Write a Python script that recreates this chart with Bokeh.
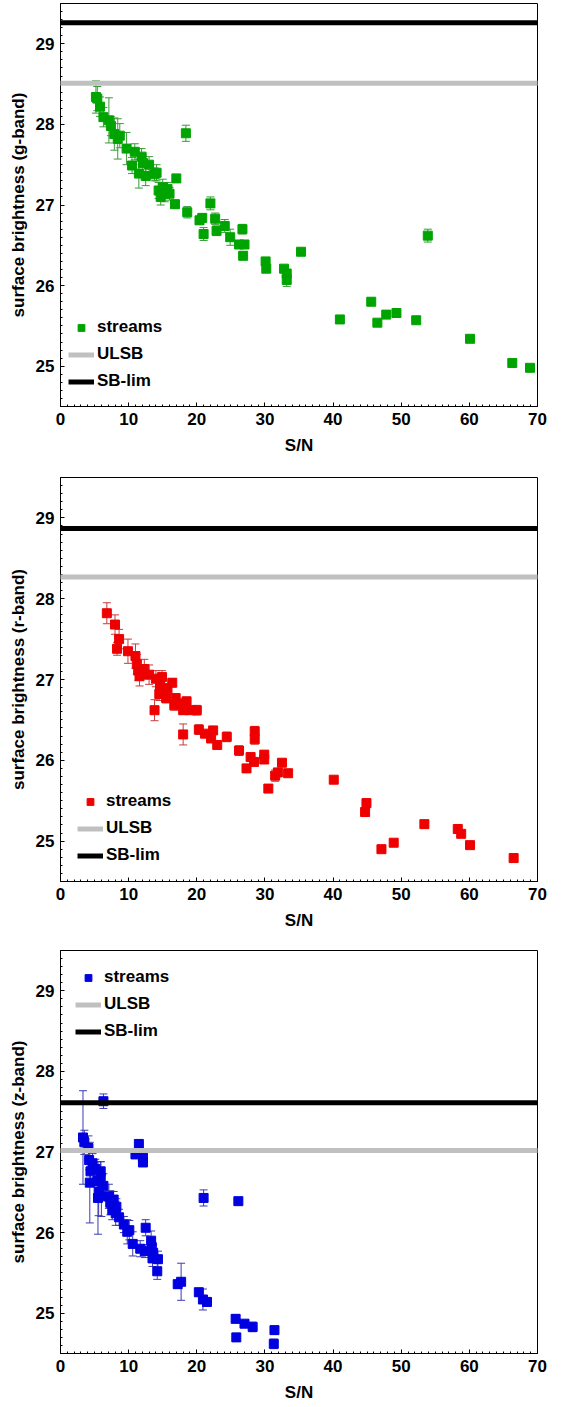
from bokeh.plotting import figure
from bokeh.models import (ColumnDataSource, Whisker, TeeHead, Range1d, Legend,
                          LegendItem, SingleIntervalTicker)
from bokeh.layouts import column
from bokeh.embed import file_html
from bokeh.resources import INLINE

X_LIMITS = (0, 70)
Y_LIMITS = (24.5, 29.5)

# ---- g-band ----
g_sn = [5.2, 5.4, 5.8, 6.3, 7.1, 7.4, 7.9, 8.4, 8.7, 9.7, 10.5, 10.9, 11.5, 11.9, 12.1,
        12.5, 13.0, 13.8, 14.1, 14.4, 14.7, 15.0, 15.3, 15.7, 16.0, 16.8, 17.0, 18.4,
        18.6, 20.4, 20.8, 21.0, 22.0, 22.7, 22.9, 24.1, 24.9, 26.2, 26.7, 26.8, 27.0,
        30.1, 30.2, 32.8, 33.2, 33.2, 35.3, 41.0, 45.6, 46.5, 47.8, 49.3, 52.2, 53.9,
        60.1, 66.3, 68.9]
g_sb = [28.34, 28.32, 28.22, 28.09, 28.05, 27.98, 27.88, 27.82, 27.86, 27.70, 27.49,
        27.66, 27.39, 27.60, 27.52, 27.36, 27.50, 27.38, 27.40, 27.18, 27.10, 27.22,
        27.14, 27.20, 27.14, 27.01, 27.33, 27.89, 26.91, 26.81, 26.84, 26.64, 27.02,
        26.83, 26.68, 26.74, 26.60, 26.51, 26.70, 26.37, 26.51, 26.30, 26.21, 26.21,
        26.15, 26.07, 26.42, 25.58, 25.80, 25.54, 25.64, 25.66, 25.57, 26.62, 25.34,
        25.04, 24.98]
g_err = [0.20, 0.15, 0.12, 0.12, 0.28, 0.12, 0.20, 0.25, 0.15, 0.20, 0.10, 0.10, 0.18,
         0.10, 0.10, 0.12, 0.10, 0.08, 0.10, 0.10, 0.10, 0.10, 0.10, 0.08, 0.08, 0.05,
         0.04, 0.10, 0.07, 0.05, 0.05, 0.08, 0.08, 0.07, 0.06, 0.08, 0.10, 0.04, 0.06,
         0.05, 0.05, 0.04, 0.04, 0.04, 0.05, 0.08, 0.03, 0.04, 0.03, 0.03, 0.03, 0.03,
         0.03, 0.08, 0.03, 0.03, 0.03]
g_ulsb = 28.51
g_sblim = 29.26

# ---- r-band ----
r_sn = [6.8, 8.0, 8.6, 8.3, 9.9, 11.0, 11.2, 11.4, 11.6, 12.3, 13.0, 14.0, 14.9, 16.4,
        14.6, 14.5, 15.5, 15.7, 16.9, 17.6, 18.5, 16.7, 19.0, 20.0, 13.8, 18.0, 18.0,
        20.3, 21.2, 22.4, 22.1, 23.0, 24.4, 26.2, 27.9, 27.3, 28.4, 28.5, 28.5, 29.9,
        29.9, 32.5, 31.9, 31.5, 33.4, 30.5, 40.1, 44.9, 44.7, 47.1, 48.9, 53.4, 58.3,
        58.8, 60.1, 66.5]
r_sb = [27.82, 27.68, 27.50, 27.38, 27.35, 27.29, 27.19, 27.11, 27.04, 27.13, 27.06,
        27.01, 27.03, 26.96, 26.92, 26.82, 26.77, 26.89, 26.77, 26.70, 26.73, 26.68,
        26.62, 26.62, 26.62, 26.62, 26.32, 26.38, 26.33, 26.37, 26.27, 26.19, 26.29,
        26.12, 26.04, 25.90, 25.98, 26.36, 26.26, 26.07, 26.01, 25.97, 25.85, 25.81,
        25.84, 25.65, 25.76, 25.47, 25.36, 24.90, 24.98, 25.21, 25.15, 25.09, 24.95,
        24.79]
r_err = [0.13, 0.12, 0.12, 0.08, 0.15, 0.15, 0.12, 0.12, 0.12, 0.12, 0.12, 0.10, 0.08,
         0.05, 0.10, 0.08, 0.06, 0.06, 0.05, 0.06, 0.05, 0.06, 0.05, 0.06, 0.13, 0.05,
         0.13, 0.06, 0.03, 0.03, 0.03, 0.03, 0.06, 0.06, 0.04, 0.04, 0.04, 0.06, 0.06,
         0.04, 0.04, 0.03, 0.04, 0.07, 0.03, 0.03, 0.02, 0.05, 0.03, 0.02, 0.02, 0.02,
         0.02, 0.02, 0.02, 0.02]
r_ulsb = 28.27
r_sblim = 28.87

# ---- z-band ----
z_sn = [3.3, 3.5, 6.3, 4.1, 4.2, 4.7, 4.4, 5.1, 4.3, 5.4, 5.6, 5.9, 5.9, 6.3, 6.0, 5.5,
        7.1, 7.3, 7.8, 7.6, 8.1, 8.6, 8.2, 9.3, 9.8, 10.1, 10.6, 11.5, 11.0, 12.1, 12.1,
        12.5, 11.7, 12.4, 13.3, 13.4, 13.6, 13.5, 14.3, 14.2, 17.2, 17.7, 20.3, 20.9,
        21.5, 21.0, 26.1, 25.7, 25.8, 27.0, 28.2, 31.4, 31.3]
z_sb = [27.18, 27.12, 27.63, 27.05, 26.90, 26.86, 26.76, 26.79, 26.62, 26.64, 26.51,
        26.68, 26.76, 26.58, 26.45, 26.43, 26.45, 26.37, 26.41, 26.28, 26.24, 26.19,
        26.32, 26.10, 26.01, 26.03, 25.86, 27.10, 26.97, 26.87, 26.93, 26.06, 25.80,
        25.77, 25.90, 25.82, 25.75, 25.68, 25.67, 25.52, 25.36, 25.39, 25.26, 25.17,
        25.14, 26.43, 26.39, 24.93, 24.70, 24.87, 24.83, 24.79, 24.62]
z_err = [0.58, 0.15, 0.09, 0.15, 0.12, 0.12, 0.10, 0.12, 0.50, 0.20, 0.30, 0.20, 0.12,
         0.15, 0.25, 0.45, 0.15, 0.15, 0.10, 0.12, 0.15, 0.10, 0.10, 0.10, 0.15, 0.12,
         0.15, 0.05, 0.05, 0.05, 0.05, 0.10, 0.10, 0.08, 0.12, 0.10, 0.10, 0.10, 0.10,
         0.10, 0.05, 0.23, 0.05, 0.13, 0.05, 0.10, 0.03, 0.05, 0.05, 0.03, 0.06, 0.05,
         0.06]
z_ulsb = 27.02
z_sblim = 27.61

FONT = "Liberation Sans"
FS = "17px"


def make_panel(sn, sb, err, ulsb, sblim, band, color, ecolor, height,
               b_top, b_bottom, legend_xy):
    p = figure(width=563, height=height, output_backend="svg", toolbar_location=None,
               x_range=Range1d(*X_LIMITS), y_range=Range1d(*Y_LIMITS),
               min_border_left=60, min_border_right=26,
               min_border_top=b_top, min_border_bottom=b_bottom)
    p.grid.visible = False
    p.outline_line_color = "black"
    p.outline_line_width = 1
    p.background_fill_color = "white"
    p.border_fill_color = "white"

    p.xaxis.ticker = SingleIntervalTicker(interval=10, num_minor_ticks=10)
    p.yaxis.ticker = SingleIntervalTicker(interval=1, num_minor_ticks=10)
    for ax in (p.xaxis, p.yaxis):
        ax.major_tick_in = 4
        ax.major_tick_out = 0
        ax.minor_tick_in = 2
        ax.minor_tick_out = 0
        ax.axis_line_color = "black"
        ax.major_tick_line_color = "black"
        ax.minor_tick_line_color = "black"
        ax.major_label_text_font = FONT
        ax.major_label_text_font_size = "17px"
        ax.major_label_text_font_style = "bold"
        ax.major_label_text_color = "black"
        ax.axis_label_text_font = FONT
        ax.axis_label_text_font_size = FS
        ax.axis_label_text_font_style = "bold"
        ax.axis_label_text_color = "black"
        ax.major_label_standoff = 6
    p.xaxis.axis_label = "S/N"
    p.xaxis.axis_label_standoff = 8
    p.yaxis.axis_label = f"surface brightness ({band}-band)"
    p.yaxis.axis_label_standoff = 5

    lower = [y - e for y, e in zip(sb, err)]
    upper = [y + e for y, e in zip(sb, err)]
    src = ColumnDataSource(dict(x=sn, y=sb, lower=lower, upper=upper))
    wh = Whisker(source=src, base="x", lower="lower", upper="upper", dimension="height",
                 line_color=ecolor, line_width=1,
                 upper_head=TeeHead(size=8, line_color=ecolor, line_width=1),
                 lower_head=TeeHead(size=8, line_color=ecolor, line_width=1))
    p.add_layout(wh)
    pts = p.scatter("x", "y", source=src, marker="square", size=9,
                    fill_color=color, line_color=color)

    l1 = p.line(x=list(X_LIMITS), y=[ulsb, ulsb], line_color="#c0c0c0", line_width=5,
                level="overlay")
    l2 = p.line(x=list(X_LIMITS), y=[sblim, sblim], line_color="black", line_width=5,
                level="overlay")

    legend = Legend(items=[LegendItem(label="streams", renderers=[pts]),
                           LegendItem(label="ULSB", renderers=[l1]),
                           LegendItem(label="SB-lim", renderers=[l2])],
                    location=legend_xy, background_fill_alpha=0, border_line_alpha=0,
                    label_text_font=FONT, label_text_font_size=FS,
                    label_text_font_style="bold", label_text_color="black",
                    glyph_width=26, glyph_height=17, label_height=17, spacing=7,
                    label_standoff=3, padding=0, margin=0)
    p.add_layout(legend, "center")
    return p


p1 = make_panel(g_sn, g_sb, g_err, g_ulsb, g_sblim, "g", "#00a400", "#3a9a3a",
                473, 3, 67, (8, 15))
p2 = make_panel(r_sn, r_sb, r_err, r_ulsb, r_sblim, "r", "#ee0000", "#c83c3c",
                474, 4, 66, (17, 16))
p3 = make_panel(z_sn, z_sb, z_err, z_ulsb, z_sblim, "z", "#0000e0", "#3c3cb4",
                460, 3, 54, (15, 312))

layout = column(p1, p2, p3, spacing=0)
open("out.html", "w").write(file_html(layout, INLINE))
